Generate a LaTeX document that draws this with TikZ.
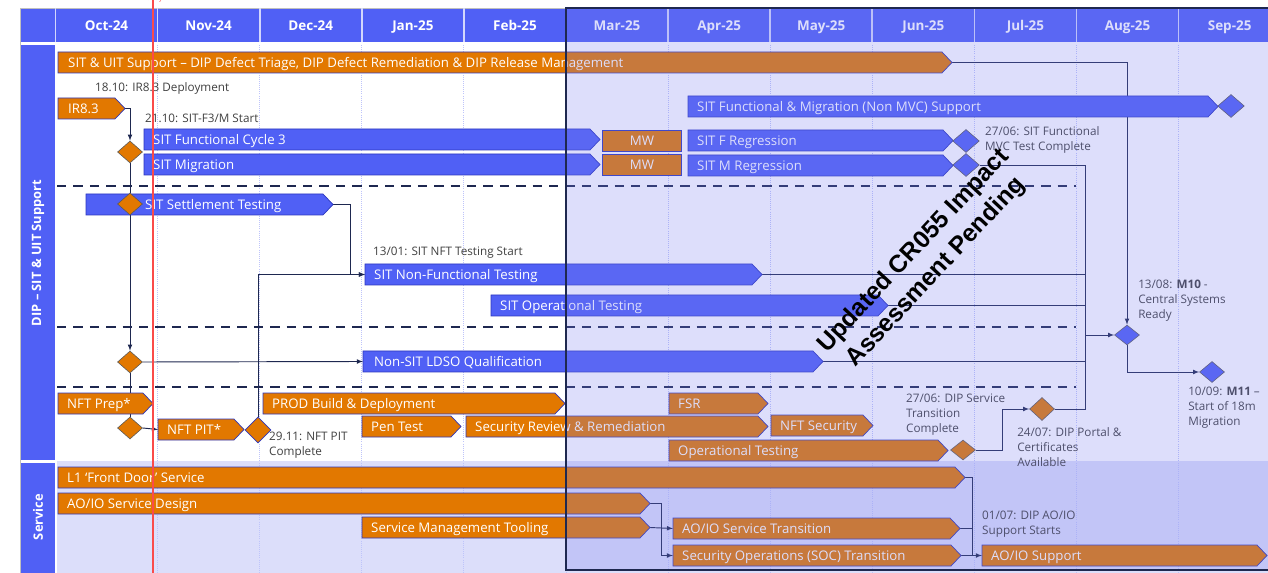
\documentclass[tikz,border=0pt]{standalone}
\usepackage{fontspec}
\setmainfont{Open Sans}
\newfontfamily\stampfont{Liberation Sans}
\usetikzlibrary{shapes.geometric}

\definecolor{hdrblue}{RGB}{80,96,245}
\definecolor{barorange}{RGB}{226,120,0}
\definecolor{edgeblue}{RGB}{45,55,190}
\definecolor{linknavy}{RGB}{30,40,80}
\definecolor{labelgrey}{RGB}{64,64,64}
\definecolor{svcshade}{RGB}{220,222,250}
\definecolor{gridlav}{RGB}{190,196,250}
\definecolor{todayred}{RGB}{250,75,75}
\definecolor{veilblue}{RGB}{120,125,240}

\pgfdeclarelayer{front}
\pgfdeclarelayer{top}
\pgfsetlayers{main,front,top}

\tikzset{
  barline/.style={draw=edgeblue, line width=0.6pt},
  bartext/.style={anchor=west, inner sep=0pt, text=white, text height=8pt, text depth=0pt,
    font=\fontsize{11.3}{13}\selectfont},
  mwbox/.style={barline, fill=barorange, text=white, inner sep=0pt, text height=8pt, text depth=0pt,
    minimum width=2.37cm, minimum height=0.63cm, font=\fontsize{11.3}{13}\selectfont},
  note/.style={inner sep=0pt, text=labelgrey, align=left, font=\fontsize{10}{12.8}\selectfont},
  link/.style={draw=linknavy, line width=0.8pt},
  mile/.style={diamond, draw=gray!70!black, line width=0.5pt, inner sep=0pt,
    minimum width=0.75cm, minimum height=0.66cm},
  orangemile/.style={mile, fill=barorange},
  bluemile/.style={mile, fill=hdrblue},
  month/.style={text=white, text height=8.5pt, text depth=0pt, inner sep=0pt,
    font=\fontsize{11.5}{14}\selectfont\bfseries},
  lanelabel/.style={text=white, rotate=90, font=\fontsize{11}{13}\selectfont\bfseries}
}

% bar with a pointed end: [text indent]{name}{x from}{x tip}{y top}{colour}{text}
\newcommand{\gbar}[7][9]{%
  \draw[barline, fill=#6] (#3,#5) -- ({#4-10},#5) -- (#4,{#5+10.5})
    -- ({#4-10},{#5+21}) -- (#3,{#5+21}) -- cycle;
  \coordinate (#2-in) at (#3,{#5+10.5});
  \coordinate (#2-out) at (#4,{#5+10.5});
  \node[bartext] (#2) at ({#3+#1},{#5+10.5}) {#7};
}

\begin{document}
\begin{tikzpicture}[x=0.03cm, y=-0.03cm, >=latex]
    \useasboundingbox (0,0) rectangle (1268,573);

    % header and lanes
    \fill[hdrblue] (20,8) rectangle (1268,42);
    \fill[hdrblue] (20,45) rectangle (55,460);
    \fill[hdrblue] (20,463) rectangle (55,573);
    \fill[svcshade] (57,461) rectangle (1268,573);
    \draw[gray!50, line width=0.5pt] (20,8) rectangle (1268,573);
    \foreach \i in {0,...,11}
        \draw[white!75!hdrblue, line width=1.5pt] ({55.5+102.1*\i},8) -- ({55.5+102.1*\i},42);
    \foreach \m [count=\i from 0] in {Oct-24,Nov-24,Dec-24,Jan-25,Feb-25,Mar-25,Apr-25,May-25,Jun-25,Jul-25,Aug-25,Sep-25}
        \node[month] (month\i) at ({55.5+102.1*(\i+0.5)},26) {\m};
    \node[lanelabel] (sitlane) at (38,253) {DIP – SIT \& UIT Support};
    \node[lanelabel] (svclane) at (38,517) {Service};

    \foreach \i in {1,...,11}
        \draw[gridlav, densely dotted, line width=0.8pt] ({55.5+102.1*\i},45) -- ({55.5+102.1*\i},573);
    \foreach \y in {186,327,387}
        \draw[linknavy, line width=1.4pt, dash pattern=on 8pt off 6pt] (57,\y) -- (1076,\y);

    \begin{pgfonlayer}{front}
        % SIT
        \gbar[10]{uitsup}{58}{952}{52}{barorange}{SIT \& UIT Support – DIP Defect Triage, DIP Defect Remediation \& DIP Release Management}
        \gbar[10]{ir}{58}{125}{98}{barorange}{IR8.3}
        \gbar{nonmvc}{688}{1218}{96}{hdrblue}{SIT Functional \& Migration (Non MVC) Support}
        \gbar{func}{144}{600}{129}{hdrblue}{SIT Functional Cycle 3}
        \gbar{migr}{144}{600}{154}{hdrblue}{SIT Migration}
        \node[mwbox] (mwf) at (642,140.5) {MW};
        \node[mwbox] (mwm) at (642,165) {MW};
        \gbar{fregr}{688}{953}{130}{hdrblue}{SIT F Regression}
        \gbar{mregr}{688}{953}{155}{hdrblue}{SIT M Regression}
        \gbar[59]{settle}{86}{333}{194}{hdrblue}{SIT Settlement Testing}
        \gbar{nft}{365}{762}{264}{hdrblue}{SIT Non-Functional Testing}
        \gbar{ops}{491}{888}{295}{hdrblue}{SIT Operational Testing}
        \gbar[11]{nonsit}{363}{823}{351}{hdrblue}{Non-SIT LDSO Qualification}
        % NFT and security
        \gbar{prep}{58}{153}{393}{barorange}{NFT Prep*}
        \gbar{pit}{158}{244}{419}{barorange}{NFT PIT*}
        \gbar{prod}{263}{565}{393}{barorange}{PROD Build \& Deployment}
        \gbar{pen}{362}{461}{416}{barorange}{Pen Test}
        \gbar{secrev}{466}{768}{416}{barorange}{Security Review \& Remediation}
        \gbar{fsr}{669}{768}{393}{barorange}{FSR}
        \gbar{nftsec}{771}{873}{415}{barorange}{NFT Security}
        \gbar{opstest}{669}{948}{440}{barorange}{Operational Testing}
        % Service
        \gbar{frontdoor}{58}{965}{467}{barorange}{L1 ‘Front Door’ Service}
        \gbar{design}{58}{650}{493}{barorange}{AO/IO Service Design}
        \gbar{tooling}{362}{650}{517}{barorange}{Service Management Tooling}
        \gbar{trans}{673}{960}{518}{barorange}{AO/IO Service Transition}
        \gbar{soc}{673}{961}{545}{barorange}{Security Operations (SOC) Transition}
        \gbar{aosup}{982}{1267}{545}{barorange}{AO/IO Support}

        % milestones
        \node[orangemile] (fstart) at (130,152) {};
        \node[orangemile] (settlestart) at (130,204) {};
        \node[orangemile] (nonsitstart) at (130,362) {};
        \node[orangemile] (prepdone) at (130,428) {};
        \node[orangemile, draw=edgeblue, minimum width=0.78cm, minimum height=0.78cm] (pitdone) at (258,430) {};
        \node[bluemile, minimum width=0.8cm, minimum height=0.69cm] (fdone) at (966,141) {};
        \node[bluemile, minimum width=0.8cm, minimum height=0.69cm] (mdone) at (966,165) {};
        \node[bluemile, minimum width=0.8cm, minimum height=0.69cm] (nonmvcdone) at (1231,106) {};
        \node[bluemile, minimum height=0.6cm] (m10) at (1127,335) {};
        \node[bluemile, minimum height=0.63cm] (m11) at (1212,372) {};
        \node[orangemile, minimum height=0.6cm] (svcdone) at (963,450) {};
        \node[orangemile, minimum height=0.69cm] (portal) at (1042,409) {};

        % notes
        \node[note, anchor=west, text height=7pt, text depth=0pt] (irnote) at (95,87) {18.10: IR8.3 Deployment};
        \node[note, anchor=west, text height=7pt, text depth=0pt] (fnote) at (145,118) {21.10: SIT-F3/M Start};
        \node[note, anchor=north west] (fdonenote) at (985,126) {27/06: SIT Functional\\MVC Test Complete};
        \node[note, anchor=west, text height=7pt, text depth=0pt] (nftnote) at (373,251) {13/01: SIT NFT Testing Start};
        \node[note, anchor=north west] (m10note) at (1138,280) {13/08: \textbf{M10} -\\Central Systems\\Ready};
        \node[note, anchor=north west] (m11note) at (1188,387) {10/09: \textbf{M11} –\\Start of 18m\\Migration};
        \node[note, anchor=north west] (pitnote) at (269,432) {29.11: NFT PIT\\Complete};
        \node[note, anchor=north west] (svcnote) at (906,394) {27/06: DIP Service\\Transition\\Complete};
        \node[note, anchor=north west] (portalnote) at (1017,427) {24/07: DIP Portal \&\\Certificates\\Available};
        \node[note, anchor=north west] (aonote) at (982,511) {01/07: DIP AO/IO\\Support Starts};
    \end{pgfonlayer}

    % connectors
    \draw[link, ->] (ir-out) -| (fstart.north);
    \draw[link] (fstart.south) -- (settlestart.north);
    \draw[link, ->] (settlestart.south) -- (nonsitstart.north);
    \draw[link] (nonsitstart.south) -- (prepdone.north);
    \draw[link, ->] (nonsitstart.east) -- (nonsit-in);
    \draw[link, ->] (prepdone.east) -- (pit-in);
    \draw[link, ->] (settle-out) -- ++(17,0) |- (nft-in);
    \draw[link, ->] (pitdone.north) |- (nft-in);

    \coordinate (merge) at (1085,335);
    \draw[link] (mdone.east) -| (merge);
    \draw[link] (nft-out) -| (merge);
    \draw[link] (ops-out) -| (merge);
    \draw[link] (nonsit-out) -| (merge);
    \draw[link] (portal.east) -| (merge);
    \draw[link, ->] (merge) -- (m10.west);
    \draw[link, ->] (uitsup-out) -| (m10.north);
    \draw[link, ->] (m10.south) |- (m11.west);
    \draw[link, ->] (svcdone.east) -- ++(27,0) |- (portal.west);

    \coordinate (svcjoin) at (972,555.5);
    \draw[link] (frontdoor-out) -| (svcjoin);
    \draw[link] (trans-out) -| (svcjoin);
    \draw[link] (soc-out) -- (svcjoin);
    \draw[link, ->] (svcjoin) -- (aosup-in);
    \draw[link, ->] (design-out) -- ++(11,0) |- (soc-in);
    \draw[link, ->] (tooling-out) -- (trans-in);

    \begin{pgfonlayer}{top}
        % pending window
        \fill[veilblue, fill opacity=0.25] (566,8) rectangle (1270,570);
        \draw[linknavy, line width=1pt] (1270,8) -- (566,8) -- (566,570) -- (1270,570);
        \node[rotate=47, align=center, text=black, font=\stampfont\fontsize{21}{26}\selectfont\bfseries]
            (stamp) at (925,262) {Updated CR055 Impact\\Assessment Pending};
        % today
        \draw[todayred, line width=0.9pt] (153,0) -- (153,573);
        \node[anchor=south, inner sep=0pt, text=todayred, font=\fontsize{6}{7}\selectfont] (today) at (153,2.5) {Today};
    \end{pgfonlayer}
\end{tikzpicture}
\end{document}
